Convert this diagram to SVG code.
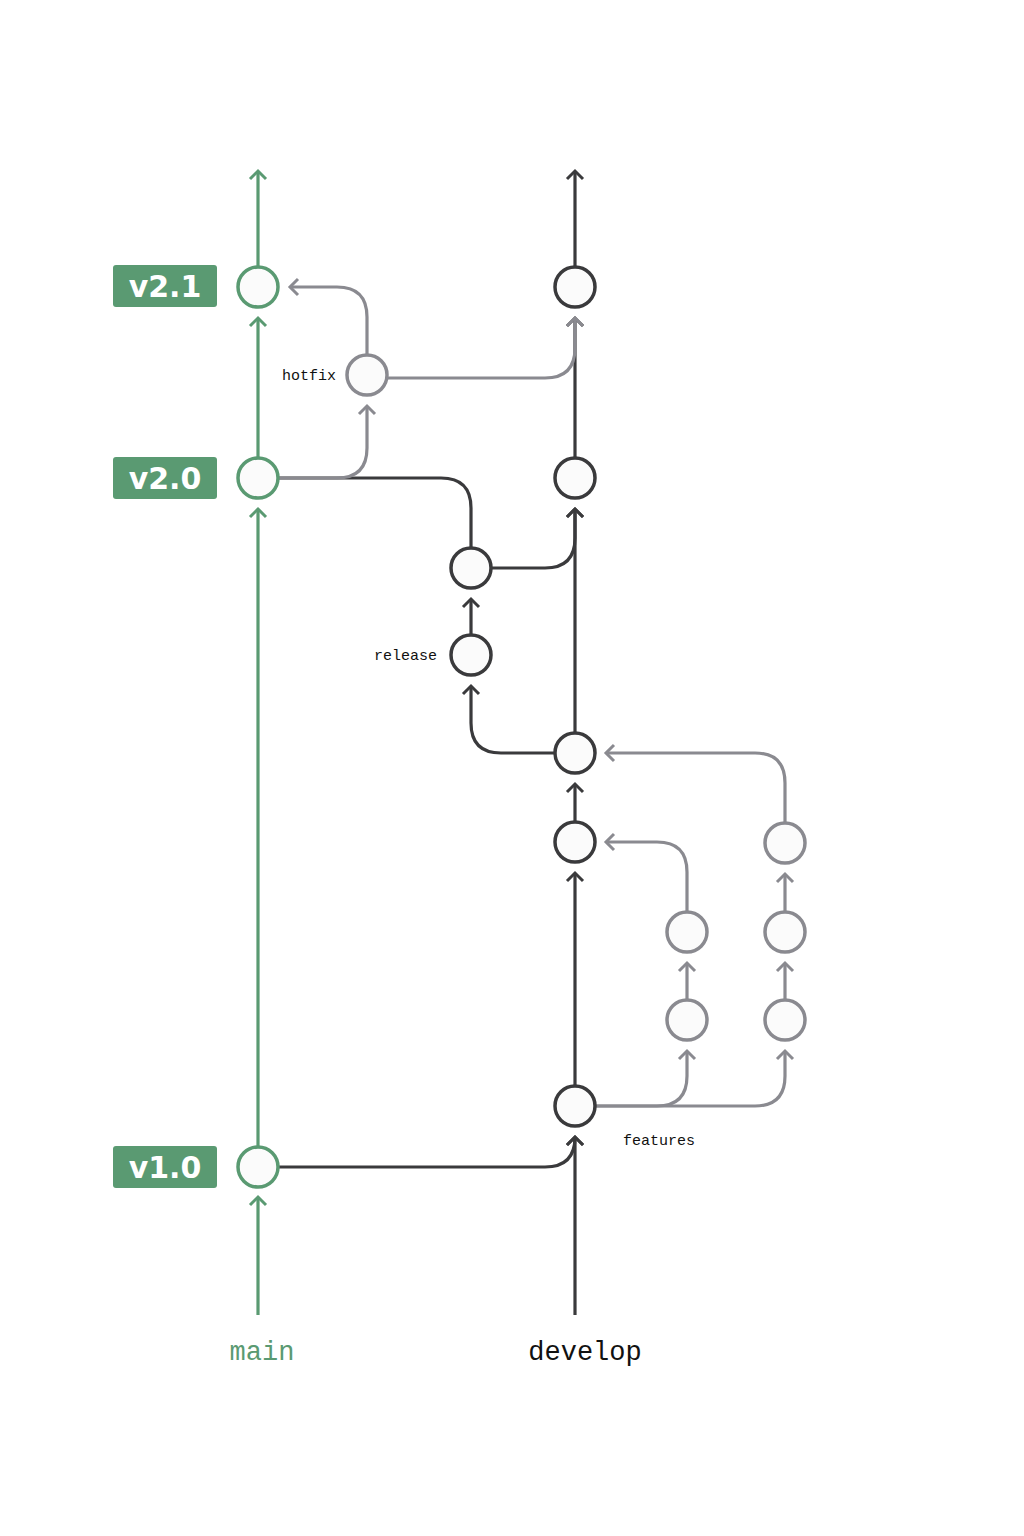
<svg xmlns="http://www.w3.org/2000/svg" width="1024" height="1536" viewBox="0 0 1024 1536">
<style>
.g{stroke:#5a9a72}.d{stroke:#3a3a3c}.h{stroke:#8a8a90}
.c path{fill:none;stroke-width:3.2}
circle{fill:#fbfbfb;stroke-width:3.5}
.tag rect{fill:#5a9a72}
.tag text{fill:#fff;font:bold 30px "DejaVu Sans",sans-serif;text-anchor:middle}
.lb{font:15px "Liberation Mono",monospace;fill:#111}
</style>
<defs>
<marker id="ag" viewBox="0 0 20 20" refX="10" refY="10" markerWidth="20" markerHeight="20" markerUnits="userSpaceOnUse" orient="auto"><path d="M2,2 L10,10 L2,18" fill="none" stroke="#5a9a72" stroke-width="3"/></marker>
<marker id="ad" viewBox="0 0 20 20" refX="10" refY="10" markerWidth="20" markerHeight="20" markerUnits="userSpaceOnUse" orient="auto"><path d="M2,2 L10,10 L2,18" fill="none" stroke="#3a3a3c" stroke-width="3"/></marker>
<marker id="ah" viewBox="0 0 20 20" refX="10" refY="10" markerWidth="20" markerHeight="20" markerUnits="userSpaceOnUse" orient="auto"><path d="M2,2 L10,10 L2,18" fill="none" stroke="#8a8a90" stroke-width="3"/></marker>
</defs>
<g id="connectors" class="c">
<path class="g" d="M258,1315 V1197" marker-end="url(#ag)"/>
<path class="g" d="M258,1187 V509" marker-end="url(#ag)"/>
<path class="g" d="M258,458 V318" marker-end="url(#ag)"/>
<path class="g" d="M258,267 V171" marker-end="url(#ag)"/>
<path class="d" d="M278,1167 H545 Q575,1167 575,1137" marker-end="url(#ad)"/>
<path class="d" d="M575,1315 V1137" marker-end="url(#ad)"/>
<path class="d" d="M575,1086 V873" marker-end="url(#ad)"/>
<path class="d" d="M575,822 V784" marker-end="url(#ad)"/>
<path class="d" d="M575,733 V509" marker-end="url(#ad)"/>
<path class="d" d="M575,458 V318" marker-end="url(#ad)"/>
<path class="d" d="M575,267 V171" marker-end="url(#ad)"/>
<path class="h" d="M595,1106 H657 Q687,1106 687,1076 V1051" marker-end="url(#ah)"/>
<path class="h" d="M595,1106 H755 Q785,1106 785,1076 V1051" marker-end="url(#ah)"/>
<path class="h" d="M687,1000 V963" marker-end="url(#ah)"/>
<path class="h" d="M785,1000 V963" marker-end="url(#ah)"/>
<path class="h" d="M785,912 V874" marker-end="url(#ah)"/>
<path class="h" d="M687,912 V872 Q687,842 657,842 H606" marker-end="url(#ah)"/>
<path class="h" d="M785,823 V783 Q785,753 755,753 H606" marker-end="url(#ah)"/>
<path class="d" d="M555,753 H501 Q471,753 471,723 V686" marker-end="url(#ad)"/>
<path class="d" d="M471,635 V599" marker-end="url(#ad)"/>
<path class="d" d="M491,568 H545 Q575,568 575,538 V509" marker-end="url(#ad)"/>
<path class="d" d="M278,478 H441 Q471,478 471,508 V548"/>
<path class="h" d="M278,478 H337 Q367,478 367,448 V406" marker-end="url(#ah)"/>
<path class="h" d="M367,355 V317 Q367,287 337,287 H290" marker-end="url(#ah)"/>
<path class="h" d="M387,378 H545 Q575,378 575,348 V318" marker-end="url(#ah)"/>
</g>
<g id="main-v10"><circle class="g" cx="258" cy="1167" r="20"/></g>
<g id="main-v20"><circle class="g" cx="258" cy="478" r="20"/></g>
<g id="main-v21"><circle class="g" cx="258" cy="287" r="20"/></g>
<g id="dev1"><circle class="d" cx="575" cy="1106" r="20"/></g>
<g id="dev2"><circle class="d" cx="575" cy="842" r="20"/></g>
<g id="dev3"><circle class="d" cx="575" cy="753" r="20"/></g>
<g id="dev4"><circle class="d" cx="575" cy="478" r="20"/></g>
<g id="dev5"><circle class="d" cx="575" cy="287" r="20"/></g>
<g id="hotfix"><circle class="h" cx="367" cy="375" r="20"/></g>
<g id="rel1"><circle class="d" cx="471" cy="655" r="20"/></g>
<g id="rel2"><circle class="d" cx="471" cy="568" r="20"/></g>
<g id="f1a"><circle class="h" cx="687" cy="1020" r="20"/></g>
<g id="f1b"><circle class="h" cx="687" cy="932" r="20"/></g>
<g id="f2a"><circle class="h" cx="785" cy="1020" r="20"/></g>
<g id="f2b"><circle class="h" cx="785" cy="932" r="20"/></g>
<g id="f2c"><circle class="h" cx="785" cy="843" r="20"/></g>
<g id="tag-v21" class="tag"><rect x="113" y="265" width="104" height="42" rx="3"/><text x="165" y="297">v2.1</text></g>
<g id="tag-v20" class="tag"><rect x="113" y="457" width="104" height="42" rx="3"/><text x="165" y="489">v2.0</text></g>
<g id="tag-v10" class="tag"><rect x="113" y="1146" width="104" height="42" rx="3"/><text x="165" y="1178">v1.0</text></g>
<text class="lb" x="336" y="380" text-anchor="end">hotfix</text>
<text class="lb" x="437" y="660" text-anchor="end">release</text>
<text class="lb" x="623" y="1145">features</text>
<text x="262" y="1360" text-anchor="middle" font-family="Liberation Mono,monospace" font-size="27" fill="#5a9a72">main</text>
<text x="585" y="1360" text-anchor="middle" font-family="Liberation Mono,monospace" font-size="27" fill="#111">develop</text>
</svg>
